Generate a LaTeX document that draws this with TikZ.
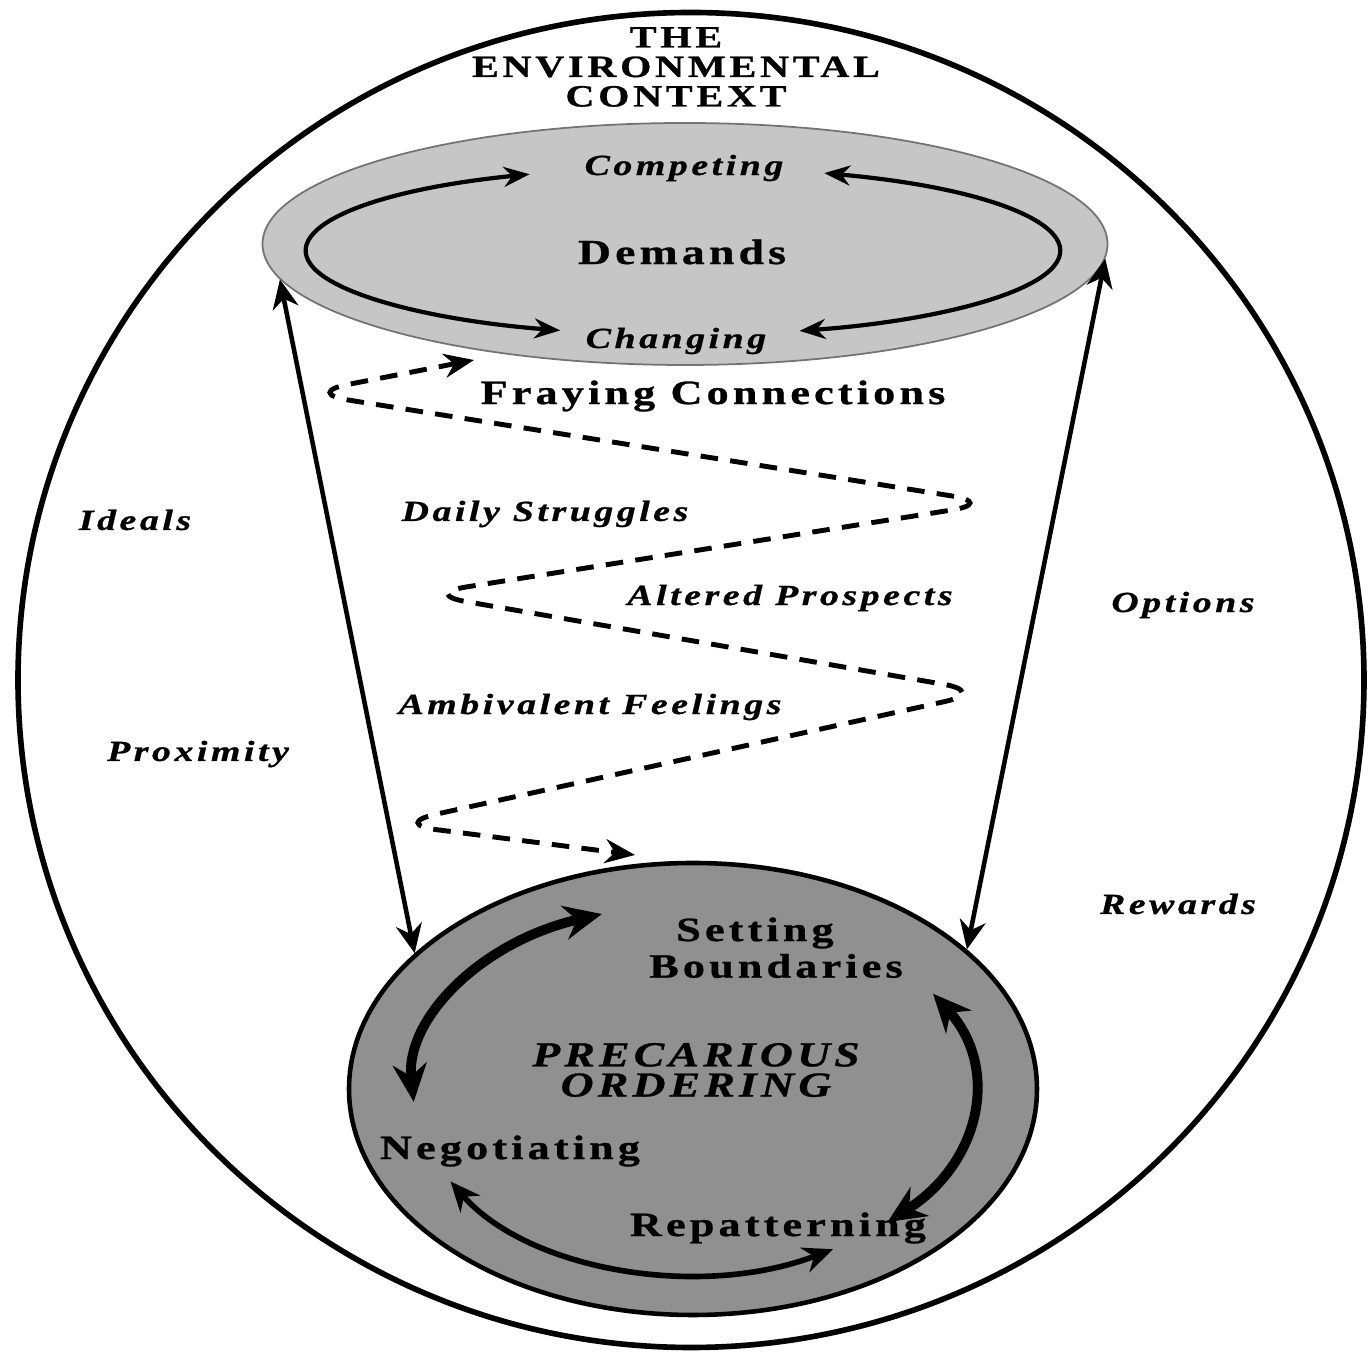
\documentclass[tikz,border=0pt]{standalone}
\usepackage{fontspec}
\usetikzlibrary{shapes.geometric,arrows.meta,calc}
\newfontfamily\lblfont[FakeStretch=1.3,LetterSpace=12,
    BoldFeatures={FakeBold=0.8},BoldItalicFeatures={FakeBold=0.8}]{Liberation Serif}
\definecolor{demandgray}{HTML}{C6C6C6}
\definecolor{ordergray}{HTML}{909090}

\begin{document}
\begin{tikzpicture}[
    titletext/.style={font=\lblfont\bfseries\fontsize{8.8}{8.4}\selectfont, align=center, inner sep=0pt},
    boldtext/.style={font=\lblfont\bfseries\fontsize{9.7}{8.6}\selectfont, align=center, inner sep=0pt},
    slanttext/.style={font=\lblfont\bfseries\itshape\fontsize{8.3}{9}\selectfont, inner sep=0pt},
    linkarrow/.style={<->, >={Stealth[length=2.9mm,width=2.6mm]}, line width=1.3pt},
    looparrow/.style={<->, >={Stealth[length=2.6mm,width=2mm]}, line width=1.2pt},
    cyclearrow/.style={<->, >={Stealth[length=3.8mm,width=3.4mm]}, line width=2.8pt},
    frayline/.style={<->, >={Stealth[length=3mm,width=2.4mm]}, line width=1.4pt,
        dash pattern=on 5pt off 3.5pt, rounded corners=0.45cm}
]
\useasboundingbox (0,0) rectangle (13.70,-13.55);

% Environmental context
\node[ellipse, draw, line width=1.6pt, minimum width=13.46cm, minimum height=13.35cm] (environment) at (6.91,-6.80) {};
\node[titletext] (title) at (6.76,-0.67) {THE\\ENVIRONMENTAL\\CONTEXT};

% Demands
\node[ellipse, draw=black!55, line width=0.5pt, fill=demandgray, minimum width=8.45cm, minimum height=2.42cm] (demands) at (6.85,-2.44) {};
\node[boldtext, font=\lblfont\bfseries\fontsize{10}{10}\selectfont] (demandstext) at (6.82,-2.52) {Demands};
\node[slanttext] (competing) at (6.84,-1.68) {Competing};
\node[slanttext] (changing) at (6.76,-3.41) {Changing};

\coordinate (loopc) at (6.83,-2.51);
\draw[looparrow] ($(loopc)+(114:3.77 and 0.84)$) arc[start angle=114, end angle=251, x radius=3.77, y radius=0.84];
\draw[looparrow] ($(loopc)+(68:3.77 and 0.84)$) arc[start angle=68, end angle=-72, x radius=3.77, y radius=0.84];

% Precarious ordering
\node[ellipse, draw, line width=1.3pt, fill=ordergray, minimum width=6.88cm, minimum height=4.52cm] (ordering) at (6.93,-10.89) {};
\node[boldtext] (setting) at (7.55,-9.33) {Setting};
\node[boldtext] (boundaries) at (7.76,-9.66) {Boundaries};
\node[boldtext, font=\lblfont\bfseries\itshape\fontsize{10}{8.6}\selectfont] (precarious) at (6.96,-10.70) {PRECARIOUS\\ORDERING};
\node[boldtext] (negotiating) at (5.10,-11.51) {Negotiating};
\node[boldtext] (repatterning) at (7.78,-12.28) {Repatterning};

\draw[cyclearrow] ($(ordering.center)+(109:2.80 and 1.85)$) arc[start angle=109, end angle=184, x radius=2.80, y radius=1.85];
\draw[cyclearrow] ($(ordering.center)+(31:2.80 and 1.85)$) arc[start angle=31, end angle=-46, x radius=2.80, y radius=1.85];
\draw[cyclearrow, line width=1.6pt, >={Stealth[length=3mm,width=2.6mm]}] ($(ordering.center)+(210:2.80 and 1.85)$) arc[start angle=210, end angle=300, x radius=2.80, y radius=1.85];

% Links between demands and ordering
\draw[linkarrow] (demands.185) -- (ordering.154);
\draw[linkarrow] (demands.358) -- (ordering.27);

% Fraying connections
\coordinate (fraytop) at (4.74,-3.60);
\coordinate (fraybottom) at (6.35,-8.55);
\draw[frayline] (fraytop) -- (3.04,-3.93) -- (9.96,-5.03) -- (4.22,-5.94) -- (9.88,-6.92) -- (3.92,-8.24) -- (fraybottom);
\node[boldtext] (fraying) at (7.13,-3.96) {Fraying Connections};
\node[slanttext] (struggles) at (5.45,-5.14) {Daily Struggles};
\node[slanttext] (prospects) at (7.90,-5.98) {Altered Prospects};
\node[slanttext] (feelings) at (5.90,-7.07) {Ambivalent Feelings};

% Side labels
\node[slanttext] (ideals) at (1.35,-5.20) {Ideals};
\node[slanttext] (proximity) at (1.98,-7.54) {Proximity};
\node[slanttext] (options) at (11.83,-6.05) {Options};
\node[slanttext] (rewards) at (11.78,-9.04) {Rewards};
\end{tikzpicture}
\end{document}
